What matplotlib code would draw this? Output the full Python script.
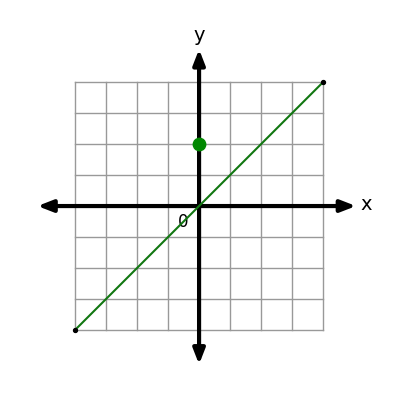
import numpy as np
import matplotlib.pyplot as plt

line_x = [-4, 4]
line_y = [-4, 4]
point_x = [0]
point_y = [2]
grid_ticks = np.arange(-4, 5)

fig = plt.figure(figsize=(4, 4), dpi=100)
ax = fig.add_axes([0, 0, 1, 1])
ax.set_xlim(-6.42, 6.48)
ax.set_ylim(-6.26, 6.65)
ax.axis('off')

# grid
for t in grid_ticks:
    ax.plot([t, t], [-4, 4], color='#999999', lw=1, zorder=1)
    ax.plot([-4, 4], [t, t], color='#999999', lw=1, zorder=1)

# axes with arrows
ax.annotate('', xy=(5.15, 0), xytext=(-5.3, 0),
            arrowprops=dict(arrowstyle='<|-|>,head_length=0.9,head_width=0.35', lw=3, color='black'), zorder=3)
ax.annotate('', xy=(0, 5.15), xytext=(0, -5.2),
            arrowprops=dict(arrowstyle='<|-|>,head_length=0.9,head_width=0.35', lw=3, color='black'), zorder=3)
ax.text(5.2, 0.05, 'x', fontsize=14, ha='left', va='center')
ax.text(0, 5.2, 'y', fontsize=14, ha='center', va='bottom')
ax.text(-0.5, -0.5, '0', fontsize=12, ha='center', va='center')

ax.plot(line_x, line_y, color='#117711', lw=1.5, zorder=4)
ax.scatter(line_x, line_y, s=8, color='black', zorder=5)
ax.scatter(point_x, point_y, s=80, color='#008800', zorder=5)

fig.savefig('out.png', dpi=100)
